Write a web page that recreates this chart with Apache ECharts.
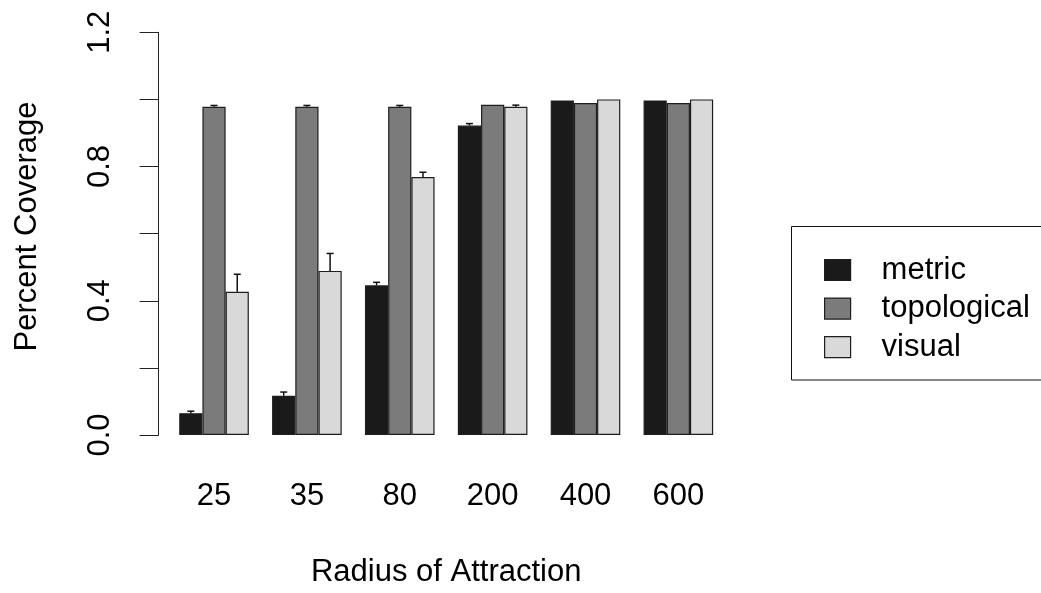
<!DOCTYPE html>
<html>
<head>
<meta charset="utf-8">
<script src="https://cdn.jsdelivr.net/npm/echarts@6/dist/echarts.min.js"></script>
<style>
html,body{margin:0;padding:0;background:#fff;}
#chart{width:1041px;height:593px;}
</style>
</head>
<body>
<div id="chart"></div>
<script>
// ---- data ----
const categories = ['25', '35', '80', '200', '400', '600'];
const seriesNames = ['metric', 'topological', 'visual'];
const metric      = [0.065, 0.117, 0.446, 0.922, 0.997, 0.997];
const topological = [0.978, 0.978, 0.978, 0.984, 0.989, 0.989];
const visual      = [0.427, 0.489, 0.769, 0.978, 1.000, 1.000];
const metricErr      = [0.006, 0.011, 0.009, 0.006, 0, 0];
const topologicalErr = [0.004, 0.004, 0.004, 0, 0, 0];
const visualErr      = [0.052, 0.052, 0.014, 0.005, 0, 0];
const yTickLabels = ['0.0', '0.4', '0.8', '1.2'];
const xTitle = 'Radius of Attraction';
const yTitle = 'Percent Coverage';

const colors = ['#1a1a1a', '#7b7b7b', '#d9d9d9'];
const FONT = 'Liberation Sans, Arial, sans-serif';
const FS = 31;
const BAR_W = 23.2;

const values = [metric, topological, visual];
const errs = [metricErr, topologicalErr, visualErr];

const chart = echarts.init(document.getElementById('chart'), null, {renderer: 'canvas'});

const barSeries = seriesNames.map((name, k) => ({
  name: name,
  type: 'bar',
  data: values[k],
  barWidth: BAR_W,
  barGap: '0%',
  itemStyle: {color: colors[k], borderColor: '#1e1e1e', borderWidth: 1.2},
  emphasis: {disabled: true},
  z: 2
}));

const errSeries = seriesNames.map((name, k) => ({
  name: name + '_err',
  type: 'custom',
  z: 3,
  silent: true,
  data: values[k].map((v, i) => [i, v, v + errs[k][i]]).filter((d, i) => errs[k][i] > 0),
  encode: {x: 0, y: [1, 2]},
  renderItem: function (params, api) {
    const base = api.coord([api.value(0), api.value(1)]);
    const top = api.coord([api.value(0), api.value(2)]);
    const x = base[0] + (k - 1) * BAR_W;
    const style = {stroke: '#111', lineWidth: 1.5};
    return {
      type: 'group',
      children: [
        {type: 'line', shape: {x1: x, y1: base[1], x2: x, y2: top[1]}, style: style},
        {type: 'line', shape: {x1: x - 3.5, y1: top[1], x2: x + 3.5, y2: top[1]}, style: style}
      ]
    };
  }
}));

const option = {
  backgroundColor: '#ffffff',
  animation: false,
  textStyle: {fontFamily: FONT},
  grid: {left: 167.6, right: 316.2, top: 32.3, bottom: 155.7, containLabel: false},
  xAxis: {
    type: 'category',
    data: categories,
    axisLine: {show: false},
    axisTick: {show: false},
    axisLabel: {color: '#000', fontSize: FS, fontFamily: FONT, margin: 46},
    name: xTitle,
    nameLocation: 'middle',
    nameGap: 122,
    nameTextStyle: {color: '#000', fontSize: FS, fontFamily: FONT}
  },
  yAxis: {
    type: 'value',
    min: 0,
    max: 1.2,
    interval: 0.2,
    offset: 9,
    axisLine: {show: true, lineStyle: {color: '#222', width: 1}},
    axisTick: {show: true, inside: false, length: 19, lineStyle: {color: '#222', width: 1}},
    splitLine: {show: false},
    axisLabel: {
      color: '#000', fontSize: FS, fontFamily: FONT, rotate: 90, margin: 43,
      formatter: function (v) {
        const s = v.toFixed(1);
        return yTickLabels.indexOf(s) >= 0 ? s : '';
      }
    }
  },
  legend: {
    orient: 'vertical',
    left: 819,
    top: 249.5,
    itemWidth: 26,
    itemHeight: 21,
    itemGap: 7.6,
    icon: 'rect',
    data: seriesNames,
    selectedMode: false,
    textStyle: {color: '#000', fontSize: FS, fontFamily: FONT, padding: [0, 0, 0, 26]},
    itemStyle: {borderColor: '#1e1e1e', borderWidth: 1.2}
  },
  graphic: [
    {
      type: 'rect',
      shape: {x: 791.5, y: 226.5, width: 300, height: 153.5},
      style: {fill: 'none', stroke: '#111', lineWidth: 1},
      silent: true
    },
    {
      type: 'text',
      x: 27,
      y: 226.5,
      rotation: Math.PI / 2,
      style: {text: yTitle, fontSize: FS, fontFamily: FONT, fill: '#000', textAlign: 'center', textVerticalAlign: 'middle'},
      silent: true
    }
  ],
  series: barSeries.concat(errSeries)
};

chart.setOption(option);
</script>
</body>
</html>
